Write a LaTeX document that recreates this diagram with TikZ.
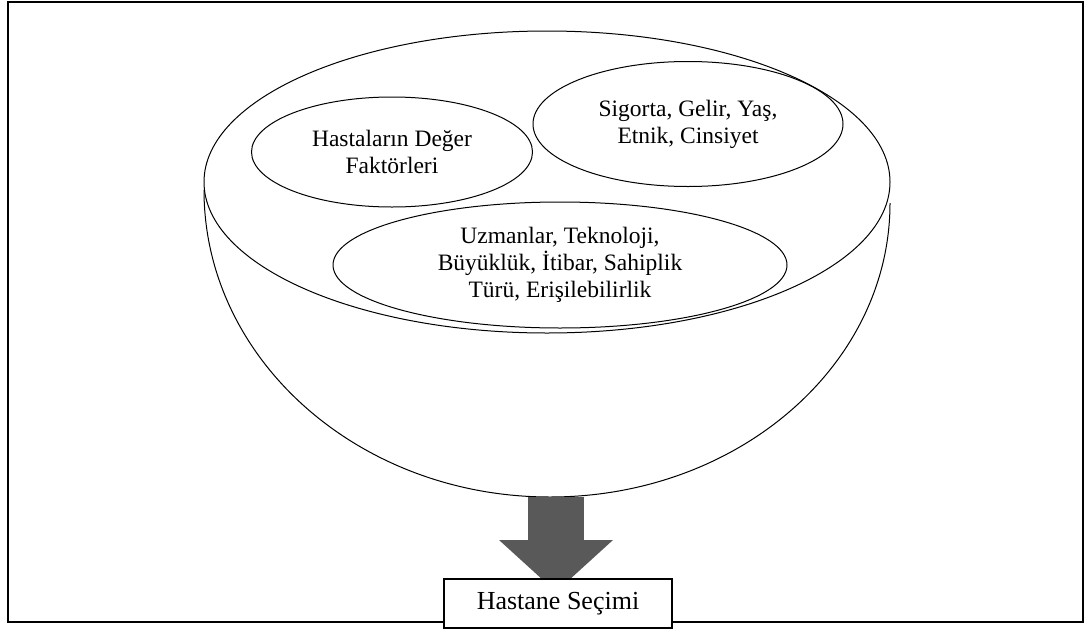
\documentclass[tikz,border=0pt]{standalone}
\usepackage{fontspec}
\setmainfont{Liberation Serif}
\usetikzlibrary{shapes.geometric,arrows.meta}
\definecolor{arrowgray}{HTML}{595959}
\begin{document}
\begin{tikzpicture}[x=1pt,y=-1pt,
  oval/.style={draw=black,line width=1pt,ellipse,inner sep=0pt,align=center,
    font=\fontsize{23.5}{27}\selectfont},
  frame/.style={draw=black,line width=2pt},
  bowl/.style={draw=black,line width=1pt},
  fatarrow/.style={draw=arrowgray,line width=56pt,
    -{Triangle[width=111pt,length=52pt,fill=arrowgray]}},
  selbox/.style={draw=black,line width=2pt,fill=white,minimum width=228pt,
    minimum height=49pt,inner sep=0pt,font=\fontsize{26}{30}\selectfont}]
\useasboundingbox (0,0) rectangle (1086,632);
% outer frame
\node[frame,minimum width=1075pt,minimum height=620pt,inner sep=0pt] (frame) at (545.5,312) {};
% bowl
\coordinate (bowlL) at (204,190);
\draw[bowl] (bowlL) arc[start angle=180,end angle=90,x radius=346,y radius=307]
  arc[start angle=90,end angle=0,x radius=340,y radius=294] coordinate (bowlR);
% rim ellipse
\node[draw=black,line width=1pt,ellipse,inner sep=0pt,minimum width=686pt,minimum height=302pt] (rim) at (547,182) {};
% inner ellipses
\node[oval,minimum width=281pt,minimum height=110pt] (value) at (392,152) {Hastaların Değer\\Faktörleri};
\node[oval,minimum width=310pt,minimum height=125pt] (demo) at (688,124) {Sigorta, Gelir, Yaş,\\Etnik, Cinsiyet};
\node[oval,minimum width=454pt,minimum height=126pt] (hosp) at (560,265) {Uzmanlar, Teknoloji,\\Büyüklük, İtibar, Sahiplik\\Türü, Erişilebilirlik};
% arrow
\coordinate (arrtop) at (556,497);
\coordinate (arrtip) at (556,592);
\draw[fatarrow] (arrtop) -- (arrtip);
% selection box
\node[selbox] (sel) at (558,603.5) {Hastane Seçimi};
\end{tikzpicture}
\end{document}
